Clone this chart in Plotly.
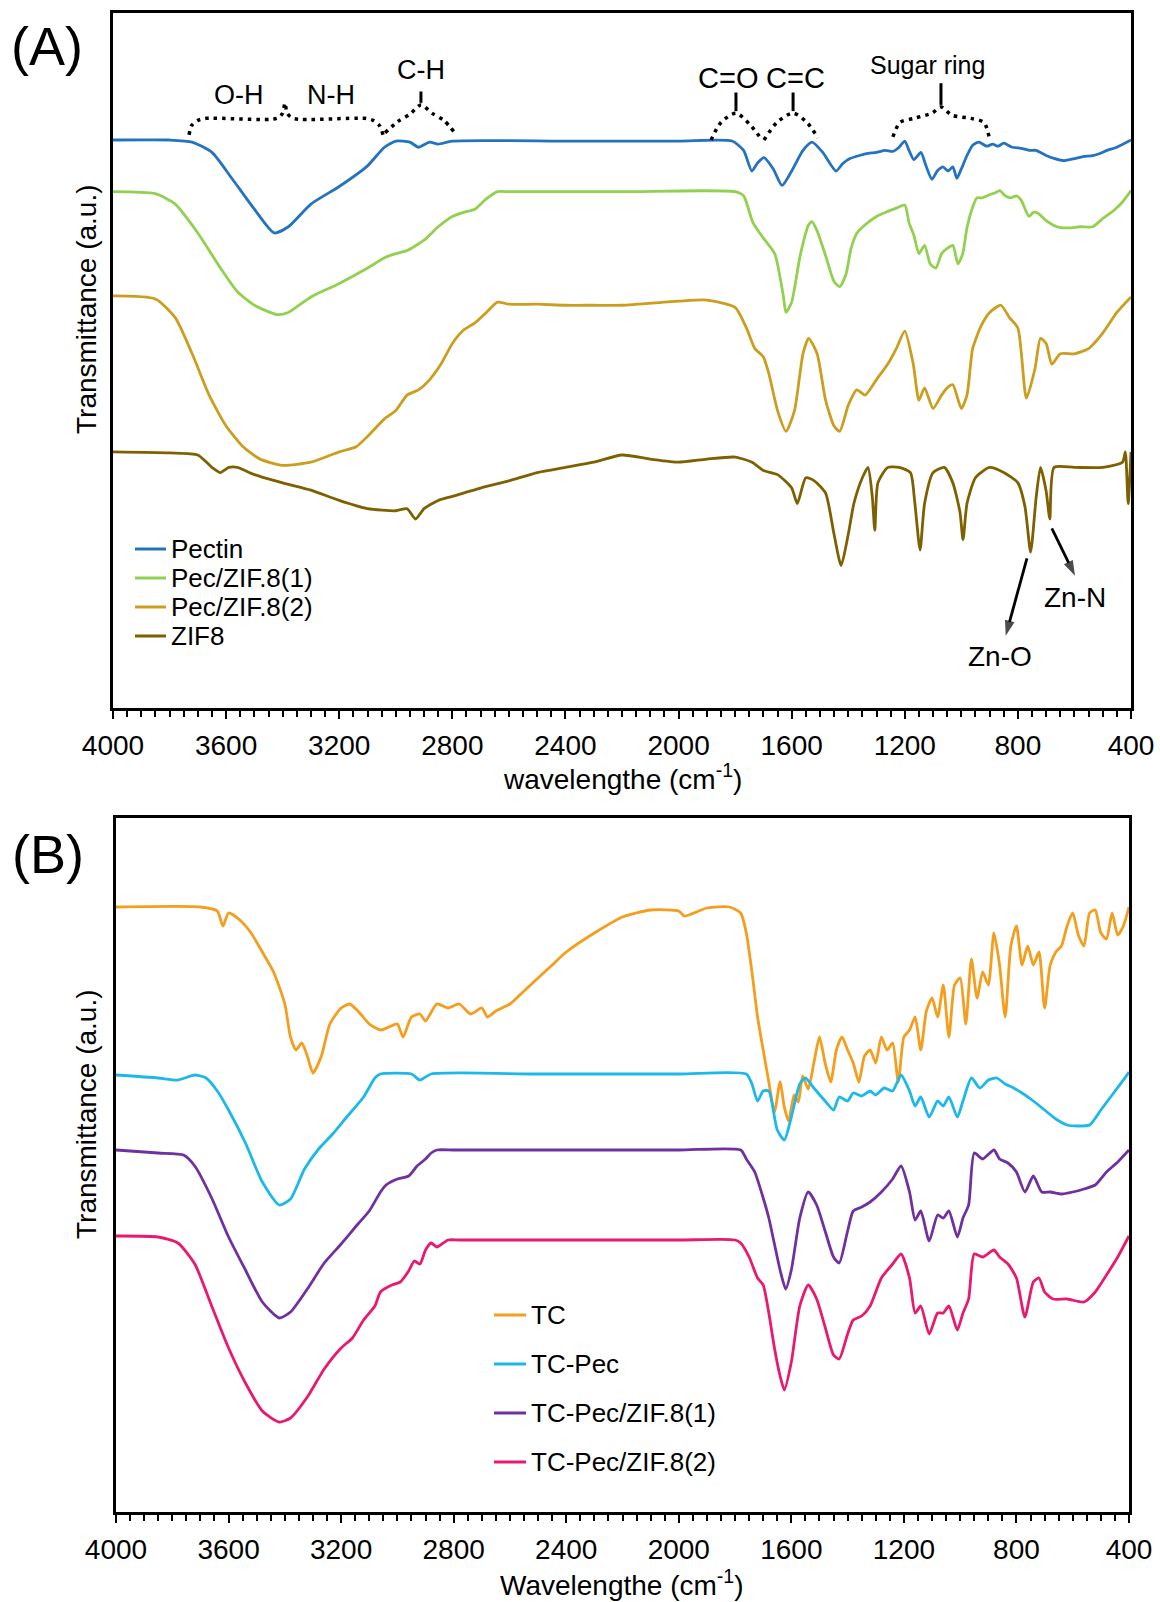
import plotly.graph_objects as go

FONT = "Liberation Sans, Arial, sans-serif"

# ---------------- Panel A data (transmittance, arbitrary units) ----------------
wn_pectin = [4000, 3800, 3720, 3650, 3580, 3500, 3430, 3380, 3300, 3200, 3100, 3040, 3000, 2950, 2920, 2880, 2850, 2800, 2400, 2000,
             1811, 1770, 1741, 1720, 1698, 1665, 1634, 1600, 1560, 1528, 1490, 1443, 1420, 1394, 1360, 1330, 1300, 1270, 1242, 1220,
             1200, 1185, 1168, 1143, 1125, 1104, 1085, 1065, 1047, 1030, 1016, 1000, 980, 960, 938, 910, 889, 870, 850, 820,
             789, 760, 736, 700, 670, 637, 600, 570, 535, 510, 485, 450, 400]
t_pectin = [550, 550, 548, 538, 513, 483, 460, 466, 488, 505, 525, 543, 549, 548, 543, 548, 546, 549, 549, 549,
            549, 540, 520, 528, 533, 522, 506, 520, 540, 548, 538, 520, 527, 532, 535, 537, 538, 540, 539, 543,
            549, 540, 531, 538, 525, 512, 520, 524, 520, 524, 513, 522, 535, 545, 548, 544, 546, 544, 547, 543,
            542, 540, 540, 535, 532, 530, 532, 534, 535, 537, 540, 543, 550]

wn_pec1 = [4000, 3850, 3780, 3700, 3620, 3560, 3500, 3420, 3380, 3300, 3200, 3100, 3040, 3000, 2960, 2900, 2850, 2800, 2760, 2720,
           2680, 2640, 2600, 2200, 1800, 1770, 1737, 1700, 1660, 1630, 1620, 1600, 1570, 1540, 1528, 1510, 1480, 1450, 1430, 1408,
           1390, 1369, 1340, 1300, 1267, 1230, 1200, 1185, 1168, 1150, 1130, 1110, 1090, 1070, 1050, 1030, 1012, 995, 980, 960,
           945, 927, 900, 880, 864, 845, 825, 805, 789, 761, 745, 729, 700, 662, 640, 612, 580, 535, 500, 460, 430, 400]
t_pec1 = [500, 498, 488, 460, 426, 403, 390, 381, 383, 398, 411, 426, 436, 440, 443, 453, 466, 476, 480, 483,
          493, 500, 500, 500, 500, 496, 470, 455, 440, 400, 383, 393, 438, 468, 471, 462, 438, 413, 408, 420,
          445, 460, 468, 476, 480, 484, 487, 470, 458, 440, 448, 430, 426, 440, 445, 448, 430, 440, 465, 485,
          494, 494, 497, 499, 501, 496, 494, 496, 492, 476, 480, 479, 472, 466, 465, 465, 466, 466, 474, 482, 490, 501]

wn_pec2 = [4000, 3850, 3780, 3720, 3660, 3600, 3540, 3480, 3400, 3300, 3200, 3140, 3100, 3040, 3000, 2960, 2920, 2880, 2840, 2800,
           2760, 2720, 2680, 2640, 2600, 2500, 2400, 2300, 2200, 2000, 1900, 1800, 1760, 1730, 1700, 1680, 1650, 1620, 1590, 1560,
           1540, 1510, 1480, 1450, 1430, 1400, 1370, 1340, 1300, 1260, 1230, 1200, 1170, 1150, 1130, 1100, 1070, 1050, 1030, 1000,
           980, 960, 930, 900, 860, 830, 800, 770, 740, 720, 700, 680, 650, 600, 550, 500, 450, 400]
t_pec2 = [399, 396, 378, 343, 303, 273, 253, 241, 235, 238, 248, 253, 263, 280, 288, 303, 308, 318, 333, 353,
          366, 373, 383, 393, 391, 391, 390, 390, 390, 394, 395, 388, 368, 348, 340, 323, 288, 268, 288, 343,
          358, 343, 298, 273, 268, 293, 308, 303, 318, 333, 348, 365, 333, 298, 310, 290, 303, 310, 313, 290,
          303, 348, 370, 383, 390, 378, 368, 300, 328, 358, 353, 333, 343, 343, 348, 363, 383, 398]

wn_zif8 = [4000, 3800, 3700, 3650, 3620, 3590, 3560, 3500, 3400, 3300, 3200, 3100, 3000, 2960, 2930, 2900, 2850, 2800, 2700, 2600,
           2500, 2400, 2300, 2200, 2100, 2000, 1900, 1800, 1740, 1700, 1650, 1600, 1580, 1550, 1520, 1480, 1450, 1425, 1400, 1380,
           1350, 1330, 1315, 1306, 1295, 1260, 1220, 1180, 1165, 1146, 1130, 1100, 1060, 1030, 1005, 994, 980, 950, 900, 850,
           800, 775, 755, 735, 720, 700, 687, 672, 600, 500, 430, 420, 410, 400]
t_zif8 = [248, 247, 245, 233, 228, 233, 233, 226, 218, 211, 201, 193, 191, 193, 183, 193, 201, 205, 213, 220,
          228, 233, 238, 245, 241, 238, 241, 243, 238, 230, 226, 213, 198, 223, 220, 208, 168, 138, 168, 198,
          223, 233, 205, 172, 218, 233, 233, 228, 200, 153, 198, 228, 233, 218, 190, 163, 198, 223, 233, 228,
          218, 195, 151, 205, 233, 210, 183, 233, 233, 233, 238, 248, 198, 248]

# ---------------- Panel B data ----------------
wn_tc = [4000, 3700, 3640, 3620, 3600, 3560, 3520, 3480, 3440, 3400, 3380, 3360, 3340, 3320, 3300, 3270, 3240, 3200, 3170, 3140,
         3100, 3060, 3030, 3000, 2980, 2950, 2920, 2900, 2860, 2820, 2780, 2740, 2700, 2680, 2650, 2600, 2550, 2500, 2450, 2400,
         2300, 2200, 2100, 2000, 1980, 1900, 1820, 1780, 1760, 1740, 1720, 1700, 1680, 1660, 1640, 1625, 1610, 1590, 1575, 1560,
         1540, 1520, 1500, 1480, 1460, 1440, 1420, 1400, 1380, 1360, 1340, 1320, 1300, 1280, 1260, 1240, 1220, 1200, 1180, 1160,
         1140, 1120, 1100, 1080, 1060, 1040, 1020, 1000, 980, 960, 940, 920, 900, 880, 860, 840, 820, 800, 780, 760,
         740, 720, 700, 680, 660, 640, 620, 600, 580, 560, 540, 520, 500, 480, 460, 440, 420, 400]
t_tc = [605, 605, 601, 586, 599, 592, 579, 560, 540, 508, 475, 462, 469, 456, 439, 456, 488, 504, 508, 501,
        488, 482, 485, 488, 475, 495, 498, 491, 508, 504, 508, 498, 504, 495, 501, 508, 521, 534, 547, 560,
        579, 595, 602, 601, 596, 604, 605, 599, 579, 540, 495, 462, 430, 400, 430, 405, 391, 417, 410, 436,
        423, 449, 475, 449, 430, 462, 475, 462, 449, 430, 456, 462, 449, 475, 462, 469, 430, 475, 482, 495,
        462, 501, 514, 495, 527, 475, 527, 534, 488, 553, 514, 540, 527, 579, 547, 495, 566, 586, 547, 566,
        547, 560, 504, 547, 560, 566, 586, 599, 577, 566, 599, 602, 579, 573, 599, 577, 586, 605]

wn_tcpec = [4000, 3850, 3780, 3720, 3680, 3640, 3600, 3540, 3480, 3420, 3380, 3330, 3280, 3230, 3180, 3120, 3080, 3060, 2950, 2920,
            2880, 2500, 2000, 1760, 1740, 1720, 1700, 1680, 1650, 1625, 1600, 1570, 1550, 1520, 1480, 1450, 1430, 1400, 1380, 1350,
            1320, 1300, 1270, 1240, 1210, 1180, 1160, 1140, 1110, 1080, 1060, 1040, 1010, 990, 960, 930, 900, 870, 840, 810,
            780, 740, 700, 660, 620, 580, 540, 500, 460, 420, 400]
t_tcpec = [437, 434, 432, 437, 434, 421, 402, 369, 330, 307, 313, 343, 363, 378, 395, 415, 434, 438, 438, 432,
           438, 438, 438, 438, 428, 411, 421, 421, 382, 372, 395, 428, 434, 424, 411, 402, 415, 411, 419, 416,
           421, 417, 424, 421, 437, 421, 406, 415, 395, 411, 406, 415, 395, 411, 434, 424, 432, 434, 428, 424,
           419, 411, 402, 393, 387, 386, 387, 402, 417, 432, 440]

wn_tczif1 = [4000, 3850, 3760, 3720, 3660, 3600, 3540, 3480, 3420, 3380, 3320, 3260, 3200, 3140, 3100, 3060, 3040, 3000, 2960, 2930,
             2900, 2880, 2860, 2800, 2400, 2000, 1780, 1760, 1730, 1700, 1680, 1660, 1640, 1620, 1600, 1570, 1540, 1510, 1480, 1450,
             1430, 1400, 1380, 1350, 1320, 1280, 1240, 1210, 1180, 1160, 1140, 1110, 1080, 1060, 1040, 1010, 990, 970, 950, 920,
             880, 860, 830, 800, 770, 740, 710, 680, 640, 600, 560, 520, 480, 440, 400]
t_tczif1 = [362, 359, 357, 346, 314, 275, 242, 210, 194, 200, 223, 249, 268, 288, 301, 320, 327, 333, 336, 346,
            353, 359, 362, 362, 362, 362, 362, 353, 340, 314, 294, 268, 242, 223, 242, 294, 320, 307, 281, 255,
            249, 281, 301, 305, 310, 320, 333, 346, 320, 292, 301, 271, 297, 294, 301, 275, 294, 307, 359, 353,
            362, 353, 349, 340, 320, 336, 320, 320, 318, 320, 323, 327, 340, 350, 362]

wn_tczif2 = [4000, 3850, 3780, 3720, 3660, 3600, 3540, 3480, 3420, 3380, 3320, 3260, 3200, 3160, 3120, 3080, 3060, 3020, 2990, 2960,
             2940, 2920, 2900, 2880, 2860, 2820, 2780, 2400, 2000, 1800, 1780, 1750, 1720, 1700, 1680, 1660, 1640, 1625, 1600, 1570,
             1540, 1510, 1480, 1450, 1430, 1400, 1380, 1350, 1320, 1280, 1240, 1210, 1180, 1160, 1140, 1110, 1080, 1060, 1040, 1010,
             990, 970, 950, 920, 880, 860, 830, 800, 770, 740, 720, 700, 670, 620, 560, 520, 480, 440, 400]
t_tczif2 = [276, 275, 269, 248, 206, 164, 129, 101, 90, 94, 115, 143, 164, 174, 192, 206, 220, 227, 230, 241,
            251, 248, 262, 269, 265, 272, 272, 272, 272, 272, 269, 255, 234, 227, 199, 164, 136, 122, 150, 206,
            227, 213, 185, 157, 153, 178, 192, 196, 206, 234, 248, 258, 234, 199, 206, 178, 199, 199, 206, 182,
            199, 213, 258, 255, 262, 255, 248, 234, 195, 230, 234, 220, 213, 213, 210, 220, 237, 255, 276]

names_a = ["Pectin", "Pec/ZIF.8(1)", "Pec/ZIF.8(2)", "ZIF8"]
names_b = ["TC", "TC-Pec", "TC-Pec/ZIF.8(1)", "TC-Pec/ZIF.8(2)"]
colors_a = ["#2473c0", "#92d050", "#cc9e1e", "#7f6000"]
colors_b = ["#f59d1c", "#1db8ea", "#7030a0", "#e8196e"]

# band annotation brackets (wavenumber, a.u.)
br_ohnh_x = [3731, 3722, 3700, 3670, 3420, 3400, 3392, 3384, 3364, 3110, 3080, 3058, 3045]
br_ohnh_y = [555, 564, 569, 571, 571, 576, 586, 576, 571, 571, 569, 564, 555]
br_ch_x = [3038, 2992, 2950, 2911, 2872, 2830, 2791]
br_ch_y = [557, 568, 575, 584, 576, 569, 557]
br_co_x = [1885, 1850, 1797, 1748, 1705]
br_co_y = [550, 567, 576, 565, 550]
br_cc_x = [1698, 1652, 1595, 1546, 1507]
br_cc_y = [550, 567, 576, 567, 552]
br_sug_x = [1242, 1217, 1168, 1104, 1072, 1033, 966, 920, 902]
br_sug_y = [553, 567, 571, 576, 582, 574, 571, 567, 553]

# Zn-O / Zn-N arrows: (tail wn, tail a.u.) -> (head wn, head a.u.)
arrow_zno = ([768, 843], [145, 70])
arrow_znn = ([680, 598], [174, 128])

fig = go.Figure()

def add_line(x, y, color, xa, ya, width=2.8):
    fig.add_trace(go.Scatter(x=x, y=y, mode="lines", xaxis=xa, yaxis=ya, showlegend=False, hoverinfo="skip",
                             line=dict(color=color, width=width, shape="spline", smoothing=0.6)))

for x, y, c in zip([wn_pectin, wn_pec1, wn_pec2, wn_zif8], [t_pectin, t_pec1, t_pec2, t_zif8], colors_a):
    add_line(x, y, c, "x", "y")
for x, y, c in zip([wn_tc, wn_tcpec, wn_tczif1, wn_tczif2], [t_tc, t_tcpec, t_tczif1, t_tczif2], colors_b):
    add_line(x, y, c, "x2", "y2")

for bx, by in [(br_ohnh_x, br_ohnh_y), (br_ch_x, br_ch_y), (br_co_x, br_co_y), (br_cc_x, br_cc_y), (br_sug_x, br_sug_y)]:
    fig.add_trace(go.Scatter(x=bx, y=by, mode="lines", xaxis="x", yaxis="y", showlegend=False, hoverinfo="skip",
                             line=dict(color="black", width=3.5, dash="3.5px,5px", shape="spline", smoothing=0.8)))

for ax_, ay_ in [arrow_zno, arrow_znn]:
    fig.add_trace(go.Scatter(x=ax_, y=ay_, mode="lines+markers", xaxis="x", yaxis="y", showlegend=False,
                             hoverinfo="skip", line=dict(color="black", width=2.8),
                             marker=dict(symbol=["circle", "arrow"], size=[0, 16], angleref="previous",
                                         color="black", line=dict(width=0))))

shapes = []
# small solid stems above bracket tips
for sx, y0, y1 in [(2911, 586, 597), (1797, 578, 596), (1595, 578, 596), (1072, 584, 605)]:
    shapes.append(dict(type="line", xref="x", yref="y", x0=sx, x1=sx, y0=y0, y1=y1, line=dict(color="black", width=3)))

annotations = []
def txt(x, y, s, size, xref="x", yref="y", xanchor="center", yanchor="middle", **kw):
    d = dict(x=x, y=y, xref=xref, yref=yref, text=s, showarrow=False, xanchor=xanchor, yanchor=yanchor,
             font=dict(family=FONT, size=size, color="black"))
    d.update(kw)
    annotations.append(d)

txt(3554, 594, "O-H", 27)
txt(3229, 594, "N-H", 27)
txt(2911, 618, "C-H", 27)
txt(1825, 610, "C=O", 29)
txt(1585, 610, "C=C", 29)
txt(1118, 623, "Sugar ring", 25)
txt(864, 50, "Zn-O", 28)
txt(598, 107, "Zn-N", 28)

# panel labels and axis titles
H, W = 1602, 1160
txt(47 / W, 1 - 46 / H, "(A)", 54, "paper", "paper")
txt(48 / W, 1 - 854 / H, "(B)", 54, "paper", "paper")
txt(86 / W, 1 - 310 / H, "Transmittance (a.u.)", 28, "paper", "paper", textangle=-90)
txt(86 / W, 1 - 1115 / H, "Transmittance (a.u.)", 28, "paper", "paper", textangle=-90)
txt(622 / W, 1 - 777 / H, "wavelengthe (cm<sup>-1</sup>)", 28, "paper", "paper")
txt(622 / W, 1 - 1583 / H, "Wavelengthe (cm<sup>-1</sup>)", 28, "paper", "paper")

# legends
for i, (n, c) in enumerate(zip(names_a, colors_a)):
    yy = 1 - [549, 578, 607, 636][i] / H
    shapes.append(dict(type="line", xref="paper", yref="paper", x0=135 / W, x1=166 / W, y0=yy, y1=yy,
                       line=dict(color=c, width=3)))
    txt(169 / W, yy, n, 26, "paper", "paper", xanchor="left")
for i, (n, c) in enumerate(zip(names_b, colors_b)):
    yy = 1 - [1315, 1364, 1413, 1462][i] / H
    shapes.append(dict(type="line", xref="paper", yref="paper", x0=494 / W, x1=526 / W, y0=yy, y1=yy,
                       line=dict(color=c, width=3)))
    txt(529 / W, yy, n, 26, "paper", "paper", xanchor="left")

xcommon = dict(range=[4000, 400], tickvals=[4000, 3600, 3200, 2800, 2400, 2000, 1600, 1200, 800, 400],
               ticks="outside", ticklen=8, tickwidth=2, tickcolor="black", showline=True, linewidth=3,
               linecolor="black", mirror=True, showgrid=False, zeroline=False, automargin=False,
               tickfont=dict(family=FONT, size=28, color="black"), ticklabelstandoff=2,
               minor=dict(dtick=50, ticks="outside", ticklen=6, tickwidth=1.6, tickcolor="black", showgrid=False))
ycommon = dict(showticklabels=False, ticks="", showline=True, linewidth=3, linecolor="black", mirror=True,
               showgrid=False, zeroline=False, automargin=False)

fig.update_layout(
    template="none",
    width=W, height=H, margin=dict(l=0, r=0, t=0, b=0),
    paper_bgcolor="white", plot_bgcolor="white", showlegend=False,
    xaxis=dict(domain=[113 / W, 1131 / W], anchor="y", **xcommon),
    yaxis=dict(domain=[1 - 708 / H, 1 - 13 / H], anchor="x", range=[0, 673], **ycommon),
    xaxis2=dict(domain=[116 / W, 1129 / W], anchor="y2", **xcommon),
    yaxis2=dict(domain=[1 - 1512 / H, 1 - 818 / H], anchor="x2", range=[0, 694], **ycommon),
    shapes=shapes, annotations=annotations,
)

fig.write_html("out.html", config={"displayModeBar": False},
               post_script="document.body.style.margin='0';document.body.style.overflow='hidden';")
